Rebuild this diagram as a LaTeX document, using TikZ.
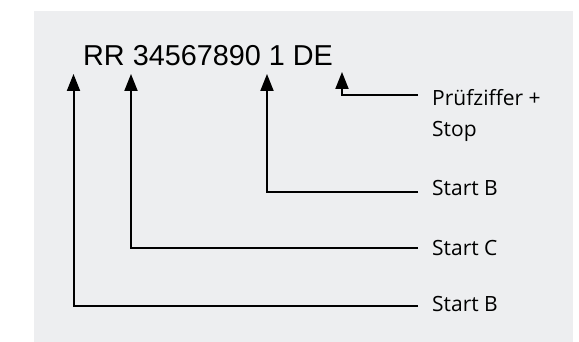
\documentclass[tikz,border=0pt]{standalone}
\usepackage{fontspec}
\setmainfont{Liberation Sans}
\newfontfamily\labelfont{Open Sans}
\usetikzlibrary{arrows.meta}
\definecolor{bggray}{RGB}{237,238,240}
\begin{document}
\begin{tikzpicture}[x=1pt,y=-1pt,
  conn/.style={line width=2pt,-{Triangle[width=13pt,length=17pt]}},
  lbl/.style={anchor=base west,inner sep=0pt,font=\labelfont\fontsize{21}{31}\selectfont,align=left}]
\useasboundingbox (0,0) rectangle (579,342);
\fill[bggray] (34,11) rectangle (573,342);
\node[anchor=base west,inner sep=0pt,font=\fontsize{28.8}{34}\selectfont] (code) at (83,65.7) {RR 34567890 1 DE};
\node[lbl] (pz) at (432,137) {Prüfziffer +\\Stop};
\node[lbl] (sb1) at (432,196) {Start B};
\node[lbl] (sc) at (432,255) {Start C};
\node[lbl] (sb2) at (432,312) {Start B};
\coordinate (t1) at (73.5,74);
\coordinate (t2) at (131,74);
\coordinate (t3) at (267,74);
\coordinate (t4) at (342,72);
\coordinate (e1) at (418,305.5);
\coordinate (e2) at (418,248.5);
\coordinate (e3) at (418,192);
\coordinate (e4) at (418,95);
\draw[conn] (e1) -| (t1);
\draw[conn] (e2) -| (t2);
\draw[conn] (e3) -| (t3);
\draw[conn] (e4) -| (t4);
\end{tikzpicture}
\end{document}
